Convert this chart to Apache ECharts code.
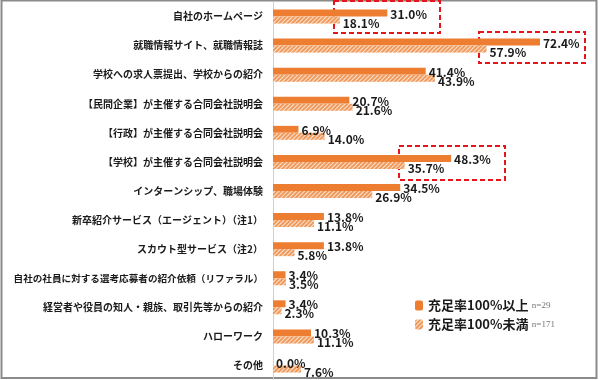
<!DOCTYPE html>
<html><head><meta charset="utf-8">
<script src="https://cdn.jsdelivr.net/npm/echarts@6/dist/echarts.min.js"></script>
<style>html,body{margin:0;padding:0;background:#fff}#c{width:600px;height:380px}</style>
</head><body><div id="c"></div>
<script>
const categories = [
  '自社のホームページ',
  '就職情報サイト、就職情報誌',
  '学校への求人票提出、学校からの紹介',
  '【民間企業】が主催する合同会社説明会',
  '【行政】が主催する合同会社説明会',
  '【学校】が主催する合同会社説明会',
  'インターンシップ、職場体験',
  '新卒紹介サービス（エージェント）（注1）',
  'スカウト型サービス（注2）',
  '自社の社員に対する選考応募者の紹介依頼（リファラル）',
  '経営者や役員の知人・親族、取引先等からの紹介',
  'ハローワーク',
  'その他'
];
const seriesNames = ['充足率100%以上', '充足率100%未満'];
const sampleSizes = ['n=29', 'n=171'];
const valuesHigh = [31.0, 72.4, 41.4, 20.7, 6.9, 48.3, 34.5, 13.8, 13.8, 3.4, 3.4, 10.3, 0.0];
const valuesLow  = [18.1, 57.9, 43.9, 21.6, 14.0, 35.7, 26.9, 11.1, 5.8, 3.5, 2.3, 11.1, 7.6];

const FONT = '"Noto Sans CJK JP", "Noto Sans", sans-serif';
const chart = echarts.init(document.getElementById('c'));
const labelStyle = (dy) => ({
  show: true, position: 'right', distance: 3, offset: [0, dy],
  formatter: p => p.value.toFixed(1) + '%',
  color: '#1a1a1a', fontSize: 12, fontWeight: 'bold', fontFamily: FONT
});
const catData = categories.map(c => c.length > 22 ? { value: c, textStyle: { fontSize: 9.6 } } : c);
chart.setOption({
  animation: false,
  backgroundColor: '#fff',
  grid: { left: 273, right: 32, top: 2, bottom: 0, containLabel: false, outerBoundsMode: 'none' },
  xAxis: { type: 'value', min: 0, max: 80, show: false },
  yAxis: {
    type: 'category', data: catData, inverse: true,
    axisLine: { show: true, lineStyle: { color: '#d0d0d0', width: 1 } },
    axisTick: { show: false },
    axisLabel: { margin: 10, color: '#1a1a1a', fontSize: 10, fontWeight: 'bold', fontFamily: FONT }
  },
  legend: {
    orient: 'vertical', left: 410, top: 294, itemGap: 6,
    itemWidth: 8, itemHeight: 10,
    data: seriesNames,
    formatter: name => '{a|' + name + '} {n|' + sampleSizes[seriesNames.indexOf(name)] + '}',
    textStyle: {
      rich: {
        a: { fontSize: 13, fontWeight: 'bold', color: '#1a1a1a', fontFamily: FONT },
        n: { fontSize: 9, color: '#777', fontFamily: '"Liberation Serif", serif' }
      }
    }
  },
  series: [
    {
      name: seriesNames[0], type: 'bar', data: valuesHigh,
      barWidth: 7, barGap: '0%',
      itemStyle: { color: '#ED7D31' },
      label: labelStyle(1)
    },
    {
      name: seriesNames[1], type: 'bar', data: valuesLow,
      barWidth: 7, barGap: '0%',
      itemStyle: {
        color: '#FBE3D0',
        decal: { symbol: 'rect', symbolSize: 1, dashArrayX: [[1, 0]], dashArrayY: [1.5, 1], rotation: -Math.PI / 4, color: '#EF9A5C' }
      },
      label: labelStyle(3)
    }
  ],
  graphic: [
    { type: 'rect', shape: { x: 1.5, y: 0.5, width: 595, height: 377.5 }, style: { fill: null, stroke: '#8a8a8a', lineWidth: 2 }, silent: true },
    { type: 'rect', shape: { x: 334, y: 1, width: 106, height: 32 }, style: { fill: null, stroke: '#e8141c', lineWidth: 2, lineDash: [5, 3] } },
    { type: 'rect', shape: { x: 479, y: 32, width: 106, height: 31 }, style: { fill: null, stroke: '#e8141c', lineWidth: 2, lineDash: [5, 3] } },
    { type: 'rect', shape: { x: 399, y: 146, width: 106, height: 34 }, style: { fill: null, stroke: '#e8141c', lineWidth: 2, lineDash: [5, 3] } }
  ]
});
</script></body></html>
